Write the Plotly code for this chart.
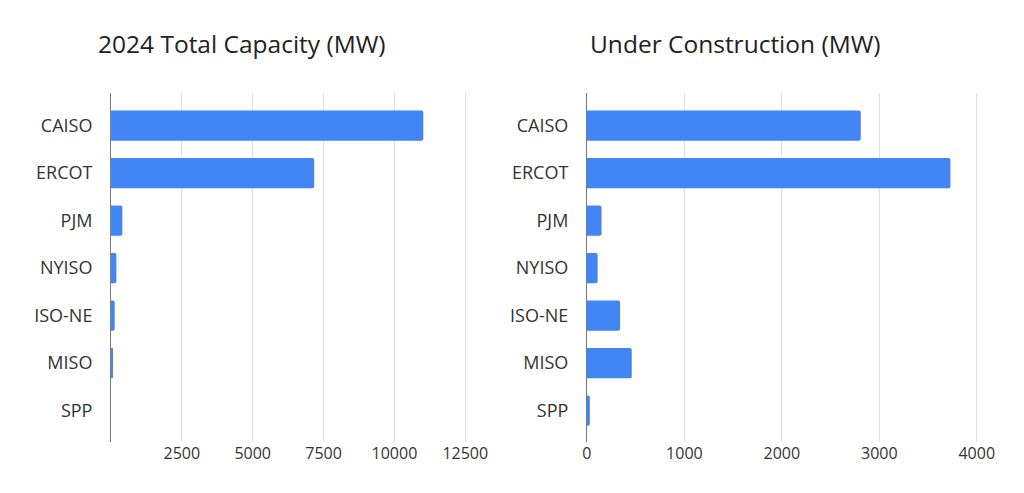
import plotly.graph_objects as go

regions = ["CAISO", "ERCOT", "PJM", "NYISO", "ISO-NE", "MISO", "SPP"]
total_capacity_mw = [11020, 7170, 400, 190, 130, 60, 0]
under_construction_mw = [2810, 3730, 150, 110, 340, 460, 30]
left_ticks = [2500, 5000, 7500, 10000, 12500]
right_ticks = [0, 1000, 2000, 3000, 4000]

W, H = 1024, 493
BLUE = "#4285F4"
FONT = "Open Sans"
TXT = "#333333"

fig = go.Figure()
fig.add_trace(go.Bar(y=regions, x=total_capacity_mw, orientation="h",
                     marker=dict(color=BLUE, line=dict(width=0)), width=0.635,
                     xaxis="x", yaxis="y", showlegend=False, hoverinfo="x+y"))
fig.add_trace(go.Bar(y=regions, x=under_construction_mw, orientation="h",
                     marker=dict(color=BLUE, line=dict(width=0)), width=0.635,
                     xaxis="x2", yaxis="y2", showlegend=False, hoverinfo="x+y"))

ydom = [1 - 442 / H, 1 - 93 / H]
yrange = [6.66, -0.686]
common_y = dict(type="category", categoryorder="array", categoryarray=regions,
                range=yrange, domain=ydom, showline=True, linecolor="#7a7a7a",
                linewidth=1, showgrid=False, zeroline=False, ticks="",
                ticklabelstandoff=14,
                tickfont=dict(family=FONT, size=18, color=TXT))
common_x = dict(showgrid=True, gridcolor="#e0e0e0", gridwidth=1, zeroline=False,
                showline=False, ticks="", tickfont=dict(family=FONT, size=16, color=TXT))

fig.update_layout(
    width=W, height=H, margin=dict(l=0, r=0, t=0, b=0),
    paper_bgcolor="white", plot_bgcolor="white",
    barcornerradius=2,
    xaxis=dict(domain=[107.5 / W, 481 / W], range=[0, 13000], anchor="y",
               tickmode="array", tickvals=left_ticks,
               ticktext=[str(v) for v in left_ticks], **common_x),
    yaxis=dict(anchor="x", **common_y),
    xaxis2=dict(domain=[590 / W, 1005 / W], range=[0, 4200], anchor="y2",
                tickmode="array", tickvals=right_ticks,
                ticktext=[str(v) for v in right_ticks], **common_x),
    yaxis2=dict(anchor="x2", **common_y),
    annotations=[
        dict(text="2024 Total Capacity (MW)", x=240 / W, y=1 - 44 / H, xref="paper",
             yref="paper", showarrow=False, xanchor="center", yanchor="middle",
             font=dict(family=FONT, size=24.5, color="#222222")),
        dict(text="Under Construction (MW)", x=740.5 / W, y=1 - 44 / H, xref="paper",
             yref="paper", showarrow=False, xanchor="center", yanchor="middle",
             font=dict(family=FONT, size=24.5, color="#222222")),
    ],
)

fig.write_html("out.html", config={"displayModeBar": False},
               post_script="document.body.style.margin='0';")
